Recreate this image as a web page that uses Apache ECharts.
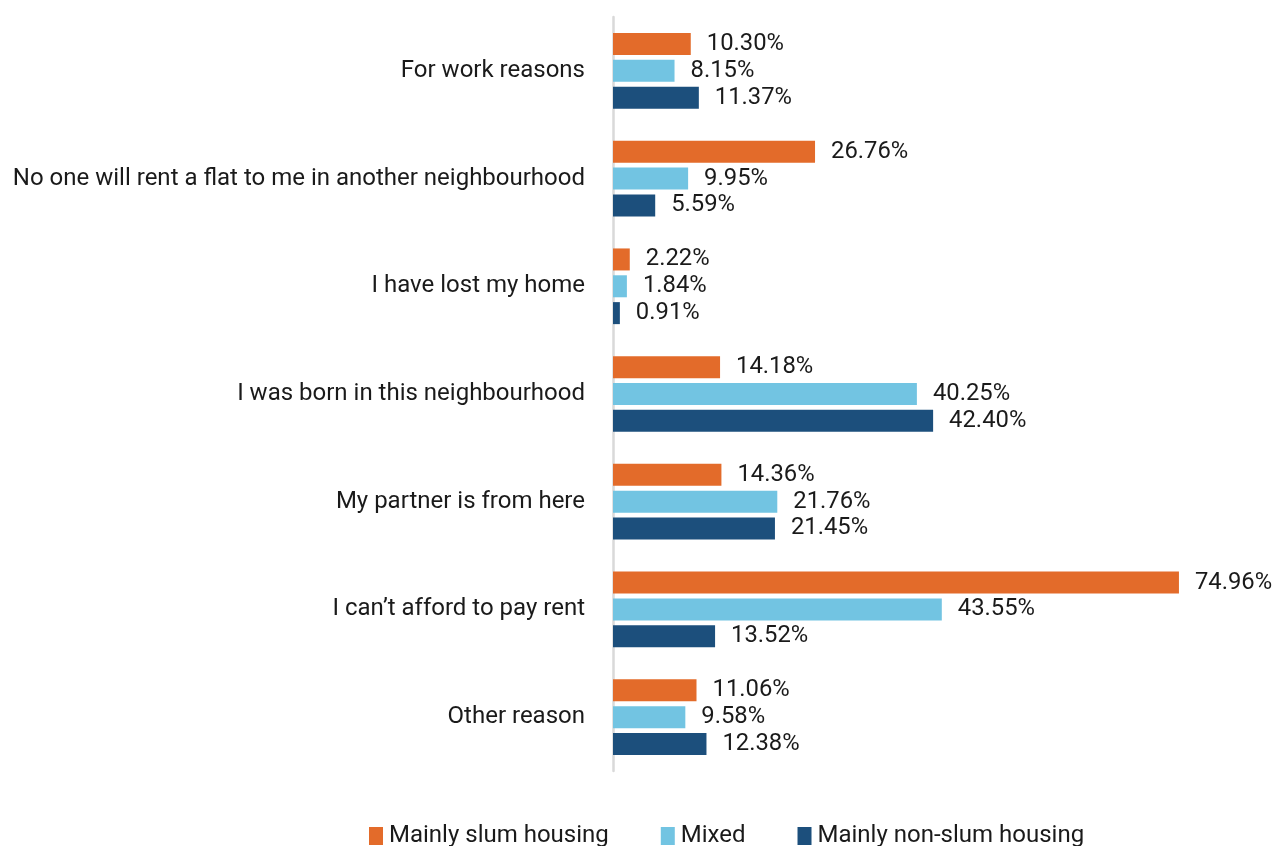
<!DOCTYPE html>
<html>
<head>
<meta charset="utf-8">
<script src="https://cdn.jsdelivr.net/npm/echarts@6/dist/echarts.min.js"></script>
<style>
  html, body { margin: 0; padding: 0; background: #fff; }
  #chart { width: 1275px; height: 846px; }
</style>
</head>
<body>
<div id="chart"></div>
<script>
// categories, top to bottom
const reasons = [
  'For work reasons',
  'No one will rent a flat to me in another neighbourhood',
  'I have lost my home',
  'I was born in this neighbourhood',
  'My partner is from here',
  'I can\u2019t afford to pay rent',
  'Other reason'
];
const slum = [10.30, 26.76, 2.22, 14.18, 14.36, 74.96, 11.06];
const mixed = [8.15, 9.95, 1.84, 40.25, 21.76, 43.55, 9.58];
const nonSlum = [11.37, 5.59, 0.91, 42.40, 21.45, 13.52, 12.38];

var chart = echarts.init(document.getElementById('chart'));

function barSeries(name, data, color) {
  return {
    name: name,
    type: 'bar',
    data: data,
    barWidth: 22,
    barGap: '22%',
    itemStyle: { color: color },
    label: {
      show: true,
      position: 'right',
      distance: 16,
      color: '#1a1a1a',
      fontSize: 23.8,
      fontFamily: 'Roboto',
      formatter: function (p) { return p.value.toFixed(2) + '%'; }
    }
  };
}

var option = {
  animation: false,
  textStyle: { fontFamily: 'Roboto' },
  grid: { left: 613, top: 17, width: 604, height: 754 },
  xAxis: {
    type: 'value',
    min: 0,
    max: 80,
    show: false
  },
  yAxis: {
    type: 'category',
    inverse: true,
    data: reasons,
    axisLine: { show: true, lineStyle: { color: '#d9d9d9', width: 2.5 } },
    axisTick: { show: false },
    axisLabel: { margin: 28, fontSize: 24, color: '#1a1a1a', fontFamily: 'Roboto' }
  },
  legend: {
    top: 819,
    left: 364,
    itemWidth: 14,
    itemHeight: 18,
    itemGap: 52,
    icon: 'rect',
    textStyle: { fontSize: 24, color: '#1a1a1a', fontFamily: 'Roboto', padding: [0, 0, 0, 1] },
    data: ['Mainly slum housing', 'Mixed', 'Mainly non-slum housing']
  },
  series: [
    barSeries('Mainly slum housing', slum, '#E36B2A'),
    barSeries('Mixed', mixed, '#72C4E2'),
    barSeries('Mainly non-slum housing', nonSlum, '#1C4F7C')
  ]
};

chart.setOption(option);
</script>
</body>
</html>
